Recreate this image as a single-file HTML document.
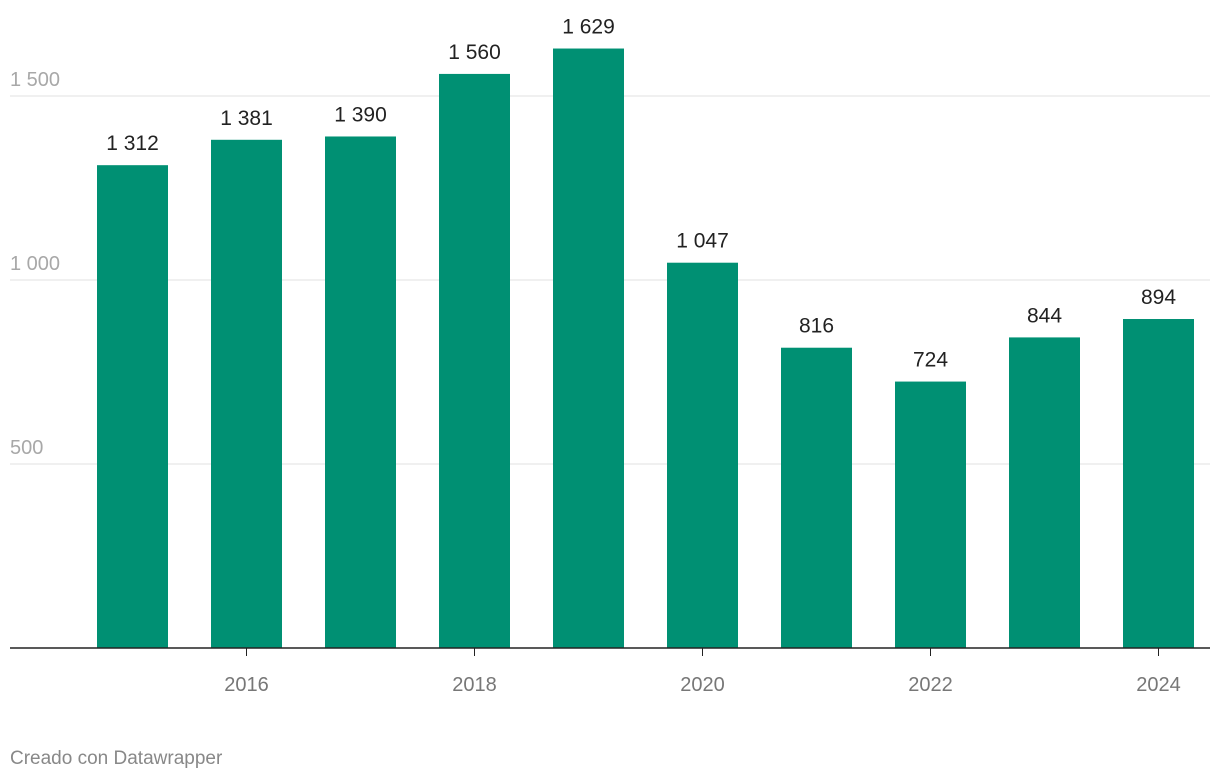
<!DOCTYPE html>
<html><head><meta charset="utf-8"><style>
body{margin:0;background:#fff;font-family:"Liberation Sans",Roboto,sans-serif;}
svg{display:block}
</style></head><body>
<svg width="1220" height="780" id="chart"></svg>
<script>
const years=[2015,2016,2017,2018,2019,2020,2021,2022,2023,2024];
const values=[1312,1381,1390,1560,1629,1047,816,724,844,894];
const valueLabels=["1 312","1 381","1 390","1 560","1 629","1 047","816","724","844","894"];
const yTicks=[500,1000,1500];
const yTickLabels=["500","1 000","1 500"];
const xTicks=[2016,2018,2020,2022,2024];
const NS="http://www.w3.org/2000/svg";
const svg=document.getElementById('chart');
const y=v=>648-v*0.368;
const x=yr=>132.5+(yr-2015)*114;
const bw=71;
function mk(t,a,txt){const e=document.createElementNS(NS,t);for(const k in a)e.setAttribute(k,a[k]);if(txt!==undefined)e.textContent=txt;svg.appendChild(e);return e;}
yTicks.forEach((v,i)=>{
 const l=mk('line',{x1:10,x2:1210,y1:y(v),y2:y(v),stroke:'#e0e0e0','stroke-width':1});
 
 
 const t=mk('text',{x:10,y:y(v)-10,fill:'#a8a8a8','font-size':20},yTickLabels[i]);
 
 
});
years.forEach((yr,i)=>{
 const r=mk('rect',{x:x(yr)-bw/2,y:y(values[i]),width:bw,height:648-y(values[i]),fill:'#009073'});
 
 
 const t=mk('text',{x:x(yr),y:y(values[i])-15,fill:'#222','font-size':21,'text-anchor':'middle'},valueLabels[i]);
 
 
});
const ax=mk('line',{x1:10,x2:1210,y1:648,y2:648,stroke:'#222','stroke-width':1.5});


xTicks.forEach(yr=>{
 const tk=mk('line',{x1:x(yr),x2:x(yr),y1:648,y2:656,stroke:'#222','stroke-width':1});
 
 
 const t=mk('text',{x:x(yr),y:691,fill:'#777','font-size':20,'text-anchor':'middle'},String(yr));
 
 
});
const f=mk('text',{x:10,y:764,fill:'#888','font-size':19},'Creado con Datawrapper');


</script>
</body></html>
